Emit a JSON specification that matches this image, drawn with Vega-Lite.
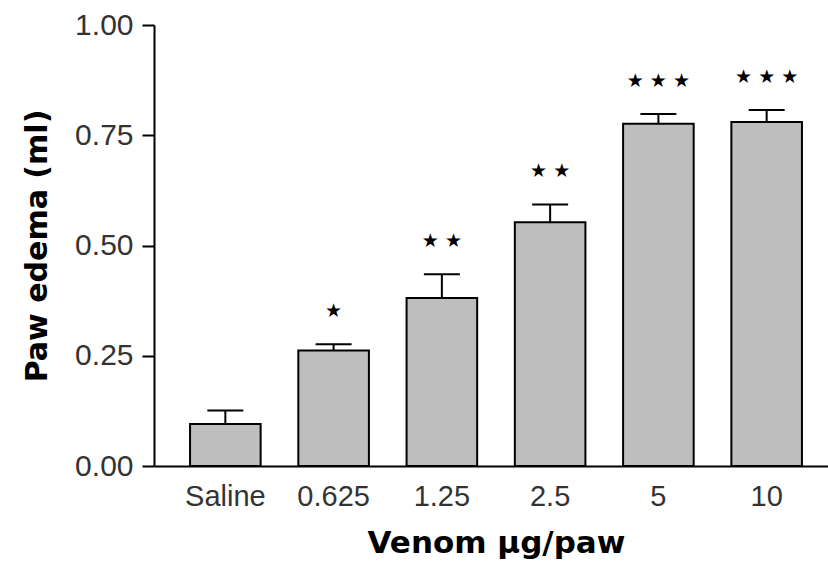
{
  "$schema": "https://vega.github.io/schema/vega-lite/v6.json",
  "width": 674,
  "height": 441,
  "autosize": {"type": "none"},
  "padding": {"left": 154, "top": 25, "right": 0, "bottom": 106},
  "background": "white",
  "config": {"view": {"stroke": null}},
  "data": {
    "values": [
      {"dose": "Saline", "mean": 0.095, "upper": 0.126, "sig": ""},
      {"dose": "0.625", "mean": 0.262, "upper": 0.276, "sig": "★"},
      {"dose": "1.25", "mean": 0.381, "upper": 0.435, "sig": "★ ★"},
      {"dose": "2.5", "mean": 0.553, "upper": 0.593, "sig": "★ ★"},
      {"dose": "5", "mean": 0.776, "upper": 0.798, "sig": "★ ★ ★"},
      {"dose": "10", "mean": 0.780, "upper": 0.807, "sig": "★ ★ ★"}
    ]
  },
  "encoding": {
    "x": {
      "field": "dose",
      "type": "nominal",
      "sort": null,
      "scale": {"range": [0, 684], "paddingInner": 0.348, "paddingOuter": 0.333},
      "axis": {
        "title": "Venom µg/paw",
        "titleFont": "DejaVu Sans",
        "titleFontWeight": "bold",
        "titleFontSize": 31,
        "titleColor": "black",
        "titlePadding": 17,
        "labelFont": "Liberation Sans",
        "labelFontSize": 29,
        "labelColor": "#333",
        "labelAngle": 0,
        "labelPadding": 16,
        "ticks": false,
        "domainColor": "black",
        "domainWidth": 2
      }
    }
  },
  "layer": [
    {
      "mark": {"type": "bar", "fill": "#bebebe", "stroke": "black", "strokeWidth": 2},
      "encoding": {
        "y": {
          "field": "mean",
          "type": "quantitative",
          "scale": {"domain": [0, 1]},
          "axis": {
            "title": "Paw edema (ml)",
            "titleFont": "DejaVu Sans",
            "titleFontWeight": "bold",
            "titleFontSize": 30,
            "titleColor": "black",
            "titlePadding": 22,
            "values": [0, 0.25, 0.5, 0.75, 1],
            "format": ".2f",
            "grid": false,
            "labelFont": "Liberation Sans",
            "labelFontSize": 30,
            "labelColor": "#333",
            "labelPadding": 9,
            "tickSize": 12,
            "tickWidth": 2,
            "tickColor": "black",
            "domainColor": "black",
            "domainWidth": 2
          }
        }
      }
    },
    {
      "mark": {"type": "rule", "stroke": "black", "strokeWidth": 2},
      "encoding": {
        "y": {"field": "mean", "type": "quantitative"},
        "y2": {"field": "upper"}
      }
    },
    {
      "mark": {"type": "tick", "color": "black", "size": 36, "thickness": 2, "opacity": 1},
      "encoding": {
        "y": {"field": "upper", "type": "quantitative"}
      }
    },
    {
      "mark": {"type": "text", "font": "DejaVu Sans", "fontSize": 19, "color": "black", "baseline": "middle", "dy": -33},
      "encoding": {
        "y": {"field": "upper", "type": "quantitative"},
        "text": {"field": "sig"}
      }
    }
  ]
}
